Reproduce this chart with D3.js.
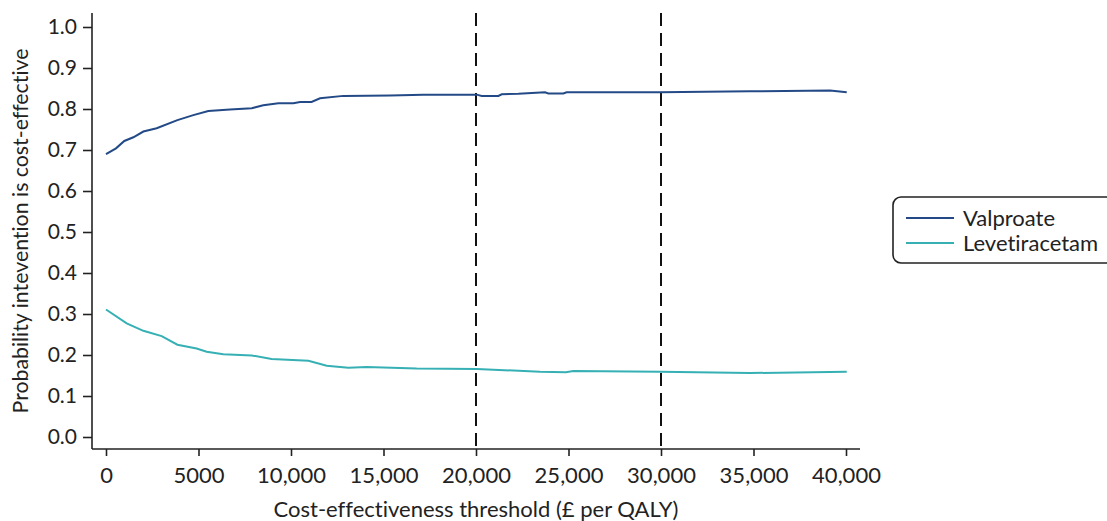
<!DOCTYPE html>
<html><head><meta charset="utf-8">
<script src="https://cdn.jsdelivr.net/npm/d3@7"></script>
<style>
html,body{margin:0;padding:0;background:#fff;}
text{font-family:Lato,"DejaVu Sans",sans-serif;fill:#222;font-variant-ligatures:none;font-feature-settings:"liga" 0;}
</style></head>
<body><svg id="c" width="1107" height="521"></svg>
<script>
const seriesNames = ["Valproate", "Levetiracetam"];
const seriesColors = ["#234a86", "#36b0b4"];
const valproateX = [0,540,990,1480,2020,2740,3860,4720,5530,6700,7880,8500,9320,10130,10490,11110,11570,12830,15350,17150,20040,20310,21210,21390,22290,23730,23910,24720,24900,29950,34810,39140,40040];
const valproateY = [0.690,0.704,0.722,0.731,0.745,0.753,0.773,0.785,0.795,0.799,0.802,0.809,0.814,0.814,0.817,0.817,0.826,0.832,0.833,0.835,0.835,0.832,0.832,0.836,0.837,0.841,0.838,0.838,0.841,0.841,0.843,0.845,0.841];
const levetiracetamX = [0,1120,2020,3010,3860,4900,5440,6340,7880,8950,10940,11930,13100,14090,16790,20040,23460,24860,25260,29950,34810,40040];
const levetiracetamY = [0.311,0.277,0.259,0.246,0.225,0.216,0.208,0.202,0.199,0.190,0.186,0.174,0.169,0.171,0.167,0.166,0.159,0.158,0.161,0.159,0.156,0.159];
const xTicks = [0,5000,10000,15000,20000,25000,30000,35000,40000];
const xTickLabels = ["0","5000","10,000","15,000","20,000","25,000","30,000","35,000","40,000"];
const yTicks = [0,0.1,0.2,0.3,0.4,0.5,0.6,0.7,0.8,0.9,1.0];
const thresholds = [20000, 30000];
const xTitle = "Cost-effectiveness threshold (£ per QALY)";
const yTitle = "Probability intevention is cost-effective";

const svg = d3.select("#c");
const x = d3.scaleLinear().domain([0,40000]).range([106,846]);
const y = d3.scaleLinear().domain([0,1]).range([437,27]);
const axisLeft = 92, axisBottom = 449, axisTop = 13, axisRight = 860;
const fs = 22;

// axes
const xa = svg.append("g").attr("transform",`translate(0,${axisBottom})`)
  .call(d3.axisBottom(x).tickValues(xTicks).tickFormat((d,i)=>xTickLabels[i]).tickSize(7).tickPadding(11).tickSizeOuter(0));
xa.select(".domain").remove();
xa.append("line").attr("x1",axisLeft).attr("x2",axisRight).attr("y1",0).attr("y2",0).attr("stroke","#222").attr("stroke-width",1.6);
xa.selectAll(".tick line").attr("stroke","#222").attr("stroke-width",1.6);
xa.selectAll(".tick text").attr("font-size",fs).attr("fill","#222").style("font-family","Lato");

const ya = svg.append("g").attr("transform",`translate(${axisLeft},0)`)
  .call(d3.axisLeft(y).tickValues(yTicks).tickFormat(d3.format(".1f")).tickSize(9).tickPadding(6).tickSizeOuter(0));
ya.select(".domain").remove();
ya.append("line").attr("x1",0).attr("x2",0).attr("y1",axisTop).attr("y2",axisBottom).attr("stroke","#222").attr("stroke-width",1.6);
ya.selectAll(".tick line").attr("stroke","#222").attr("stroke-width",1.6);
ya.selectAll(".tick text").attr("font-size",21).attr("fill","#222").style("font-family","Lato");

// titles
svg.append("text").attr("x",476).attr("y",517).attr("text-anchor","middle").attr("font-size",fs).text(xTitle);
svg.append("text").attr("transform",`translate(28,${231}) rotate(-90)`).attr("text-anchor","middle").attr("font-size",21.3).text(yTitle);

// threshold lines
svg.selectAll("line.thr").data(thresholds).enter().append("line")
  .attr("x1",d=>x(d)).attr("x2",d=>x(d)).attr("y1",axisTop).attr("y2",axisBottom)
  .attr("stroke","#111").attr("stroke-width",2).attr("stroke-dasharray","13,7");

// series
const line = d3.line().x(d=>x(d[0])).y(d=>y(d[1]));
const data = [valproateX.map((v,i)=>[v,valproateY[i]]), levetiracetamX.map((v,i)=>[v,levetiracetamY[i]])];
svg.selectAll("path.s").data(data).enter().append("path")
  .attr("d",line).attr("fill","none").attr("stroke",(d,i)=>seriesColors[i]).attr("stroke-width",2);

// legend
const lg = svg.append("g");
lg.append("rect").attr("x",893).attr("y",197).attr("width",240).attr("height",66).attr("rx",8).attr("ry",8)
  .attr("fill","#fff").attr("stroke","#222").attr("stroke-width",1.6);
seriesNames.forEach((n,i)=>{
  const yy = 218 + i*25;
  lg.append("line").attr("x1",906).attr("x2",954).attr("y1",yy).attr("y2",yy).attr("stroke",seriesColors[i]).attr("stroke-width",2);
  lg.append("text").attr("x",963).attr("y",yy+8).attr("font-size",fs).text(n);
});
</script></body></html>
